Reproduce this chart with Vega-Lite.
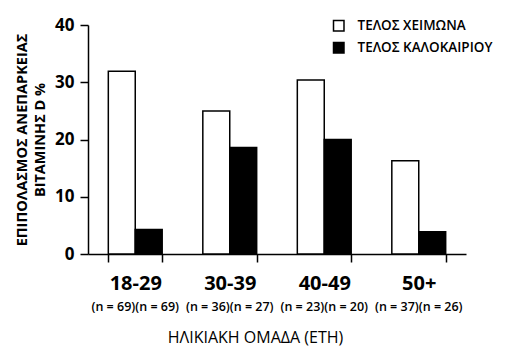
{
  "$schema": "https://vega.github.io/schema/vega-lite/v6.json",
  "width": 378,
  "height": 229,
  "autosize": "none",
  "padding": {"left": 88, "top": 25, "right": 64, "bottom": 99},
  "background": "white",
  "config": {
    "view": {"stroke": null},
    "font": "Open Sans"
  },
  "layer": [
    {
      "data": {
        "values": [
          {"group": "18-29", "season": "ΤΕΛΟΣ ΧΕΙΜΩΝΑ", "value": 31.9},
          {"group": "18-29", "season": "ΤΕΛΟΣ ΚΑΛΟΚΑΙΡΙΟΥ", "value": 4.3},
          {"group": "30-39", "season": "ΤΕΛΟΣ ΧΕΙΜΩΝΑ", "value": 25.0},
          {"group": "30-39", "season": "ΤΕΛΟΣ ΚΑΛΟΚΑΙΡΙΟΥ", "value": 18.6},
          {"group": "40-49", "season": "ΤΕΛΟΣ ΧΕΙΜΩΝΑ", "value": 30.4},
          {"group": "40-49", "season": "ΤΕΛΟΣ ΚΑΛΟΚΑΙΡΙΟΥ", "value": 20.0},
          {"group": "50+", "season": "ΤΕΛΟΣ ΧΕΙΜΩΝΑ", "value": 16.3},
          {"group": "50+", "season": "ΤΕΛΟΣ ΚΑΛΟΚΑΙΡΙΟΥ", "value": 3.9}
        ]
      },
      "mark": {"type": "bar", "stroke": "black", "strokeWidth": 1.5},
      "encoding": {
        "x": {
          "field": "group",
          "type": "nominal",
          "sort": null,
          "scale": {"paddingInner": 0.43, "paddingOuter": 0.215},
          "axis": {
            "title": "ΗΛΙΚΙΑΚΗ ΟΜΑΔΑ (ΕΤΗ)",
            "titleFont": "Open Sans",
            "titleFontSize": 16,
            "titleFontWeight": "normal",
            "titleColor": "black",
            "titlePadding": 36,
            "titleX": 167,
            "labelAngle": 0,
            "labelFont": "Open Sans",
            "labelFontSize": 20,
            "labelFontWeight": "bold",
            "labelColor": "black",
            "labelPadding": 11,
            "tickBand": "extent",
            "tickSize": 8,
            "tickColor": "black",
            "tickWidth": 1.5,
            "domainColor": "black",
            "domainWidth": 1.5,
            "grid": false
          }
        },
        "xOffset": {
          "field": "season",
          "type": "nominal",
          "sort": ["ΤΕΛΟΣ ΧΕΙΜΩΝΑ", "ΤΕΛΟΣ ΚΑΛΟΚΑΙΡΙΟΥ"],
          "scale": {"paddingInner": 0, "paddingOuter": 0}
        },
        "y": {
          "field": "value",
          "type": "quantitative",
          "scale": {"domain": [0, 40], "nice": false},
          "axis": {
            "title": ["ΕΠΙΠΟΛΑΣΜΟΣ ΑΝΕΠΑΡΚΕΙΑΣ", "ΒΙΤΑΜΙΝΗΣ D %"],
            "titleFont": "Open Sans",
            "titleFontSize": 14.5,
            "titleFontWeight": "bold",
            "titleColor": "black",
            "titleLineHeight": 18,
            "titlePadding": 7,
            "values": [0, 10, 20, 30, 40],
            "labelFont": "Open Sans",
            "labelFontSize": 17,
            "labelFontWeight": "bold",
            "labelColor": "black",
            "labelPadding": 6,
            "tickSize": 8,
            "tickColor": "black",
            "tickWidth": 1.5,
            "domainColor": "black",
            "domainWidth": 1.5,
            "grid": false
          }
        },
        "fill": {
          "field": "season",
          "type": "nominal",
          "sort": ["ΤΕΛΟΣ ΧΕΙΜΩΝΑ", "ΤΕΛΟΣ ΚΑΛΟΚΑΙΡΙΟΥ"],
          "scale": {"range": ["white", "black"]},
          "legend": {
            "title": null,
            "orient": "none",
            "legendX": 244,
            "legendY": -6,
            "symbolType": "square",
            "symbolSize": 110,
            "symbolStrokeColor": "black",
            "symbolStrokeWidth": 1.5,
            "labelFont": "Open Sans",
            "labelFontSize": 13.5,
            "labelFontWeight": 600,
            "labelColor": "black",
            "labelOffset": 12,
            "rowPadding": 5
          }
        }
      }
    },
    {
      "data": {
        "values": [
          {"group": "18-29", "nlabel": "(n = 69)(n = 69)"},
          {"group": "30-39", "nlabel": "(n = 36)(n = 27)"},
          {"group": "40-49", "nlabel": "(n = 23)(n = 20)"},
          {"group": "50+", "nlabel": "(n = 37)(n = 26)"}
        ]
      },
      "mark": {"type": "text", "font": "Open Sans", "fontSize": 12.5, "fontWeight": 600, "color": "black", "baseline": "middle"},
      "encoding": {
        "x": {"field": "group", "type": "nominal", "sort": null},
        "y": {"datum": -9.3},
        "text": {"field": "nlabel"}
      }
    }
  ]
}
